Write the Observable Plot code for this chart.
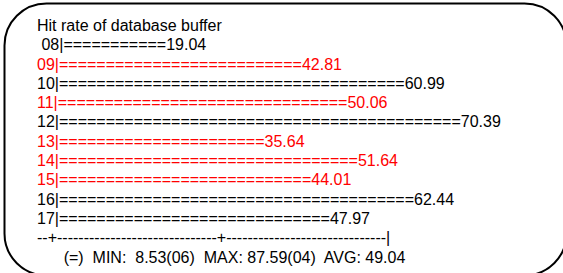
<!DOCTYPE html>
<html>
<head>
<meta charset="utf-8">
<script src="https://cdn.jsdelivr.net/npm/d3@7"></script>
<script src="https://cdn.jsdelivr.net/npm/@observablehq/plot@0.6"></script>
<style>
  html, body { margin: 0; padding: 0; background: #fff; overflow: hidden; }
  #chart { width: 563px; height: 273px; overflow: hidden; position: relative; }
  #chart svg { max-width: none !important; position: absolute; left: 0; top: 0; }
  svg text { white-space: pre; }
</style>
</head>
<body>
<div id="chart"></div>
<script>
const title = "Hit rate of database buffer";
const hours = ["08", "09", "10", "11", "12", "13", "14", "15", "16", "17"];
const hitRates = [19.04, 42.81, 60.99, 50.06, 70.39, 35.64, 51.64, 44.01, 62.44, 47.97];
const barChars = [11, 26, 37, 31, 43, 22, 32, 27, 38, 29];
const highlighted = [false, true, false, true, false, true, true, true, false, false];
const axisLine = "--+" + "-".repeat(30) + "+" + "-".repeat(30) + "|";
const footer = "      (=)  MIN:  8.53(06)  MAX: 87.59(04)  AVG: 49.04";

const lines = [];
lines.push({line: 0, text: title, color: "black"});
hours.forEach((h, i) => {
  const label = i === 0 ? " " + h : h;
  lines.push({
    line: i + 1,
    text: label + "|" + "=".repeat(barChars[i]) + hitRates[i].toFixed(2),
    color: highlighted[i] ? "red" : "black"
  });
});
lines.push({line: hours.length + 1, text: axisLine, color: "black"});
lines.push({line: hours.length + 2, text: footer, color: "black"});

const n = lines.length - 1;
const chart = Plot.plot({
  width: 567,
  height: 276,
  marginLeft: 4,
  marginTop: 3,
  marginRight: 1,
  marginBottom: 1,
  style: {fontFamily: "Arial, 'Liberation Sans', sans-serif", background: "white"},
  x: {axis: null, domain: [0, 1]},
  y: {axis: null, domain: [0, n], range: [25.3, 25.3 + 19.3 * n]},
  marks: [
    Plot.frame({rx: 42, stroke: "black", strokeWidth: 2}),
    Plot.text(lines, {
      y: "line",
      text: "text",
      fill: "color",
      frameAnchor: "left",
      textAnchor: "start",
      dx: 32.5,
      fontSize: 16
    })
  ]
});
document.getElementById("chart").appendChild(chart);
</script>
</body>
</html>
